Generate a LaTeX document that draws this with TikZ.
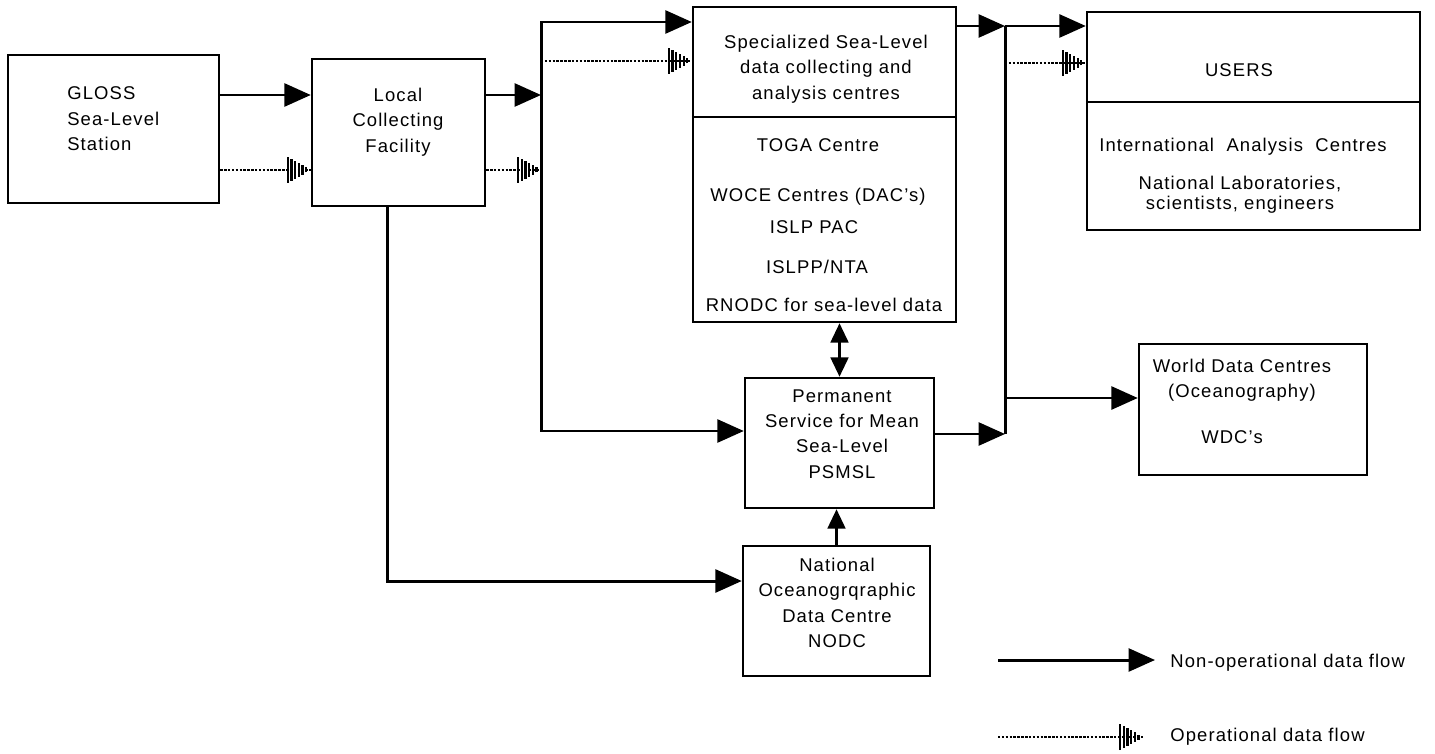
\documentclass[tikz,border=0pt]{standalone}
\usepackage{fontspec}
\setmainfont{Liberation Sans}[LetterSpace=6]
\usetikzlibrary{arrows.meta,decorations.markings}

\begin{document}
\begin{tikzpicture}[x=0.02cm, y=-0.02cm,
  every node/.style={font=\fontsize{10.5}{14.5}\selectfont},
  >={Triangle[length=15pt,width=13pt]},
  box/.style={draw, line width=1.4pt, inner sep=0pt},
  txt/.style={align=center, inner sep=0pt},
  flow/.style={line width=1.7pt, ->},
  short/.style={>={Triangle[length=11pt,width=10pt]}},
  oper/.style={line width=1.6pt, dash pattern=on 1.4pt off 0.8pt,
    postaction={decorate},
    decoration={markings, mark=at position 1 with {
      \foreach \i in {0,...,5}
        \draw[solid, line width=1.25pt] ({-23+3.7*\i},{13-2.1*\i}) -- ({-23+3.7*\i},{-13+2.1*\i});}}}]
\useasboundingbox (0,0) rectangle (1435,753);

% boxes
\node[box, minimum width=4.22cm, minimum height=2.96cm] (gloss) at (113.5,129) {};
\node[box, minimum width=3.46cm, minimum height=2.94cm] (local) at (398.5,132.5) {};
\node[box, minimum width=5.26cm, minimum height=6.3cm] (spec) at (824.5,164.5) {};
\node[box, minimum width=6.66cm, minimum height=4.36cm] (users) at (1253.5,121) {};
\node[box, minimum width=3.78cm, minimum height=2.6cm] (psmsl) at (839.5,443) {};
\node[box, minimum width=3.74cm, minimum height=2.6cm] (nodc) at (836.5,611) {};
\node[box, minimum width=4.56cm, minimum height=2.62cm] (wdc) at (1253,409.5) {};

% dividers
\coordinate (specdiv) at (0,117);
\coordinate (usersdiv) at (0,102);
\draw[line width=1.4pt] (spec.west |- specdiv) -- (spec.east |- specdiv);
\draw[line width=1.4pt] (users.west |- usersdiv) -- (users.east |- usersdiv);

% texts
\node[txt, align=left, anchor=west] (glosstxt) at (67,119) {GLOSS\\Sea-Level\\Station};
\node[txt] (localtxt) at (398,122) {Local\\Collecting\\Facility};
\node[txt] (spectxt) at (826,69) {Specialized Sea-Level\\data collecting and\\analysis centres};
\node[txt] (toga) at (818,145) {TOGA Centre};
\node[txt] (woce) at (818,197) {WOCE Centres (DAC's)};
\node[txt] (islp) at (814,227) {ISLP PAC};
\node[txt] (islpp) at (817,267) {ISLPP/NTA};
\node[txt] (rnodc) at (824,305) {RNODC for sea-level data};
\node[txt] (userstxt) at (1239,70) {USERS};
\node[txt] (intl) at (1243,147) {International\ \ Analysis\ \ Centres};
\node[txt, font=\fontsize{10.5}{11.5}\selectfont] (natlab) at (1240,195) {National Laboratories,\\scientists, engineers};
\node[txt] (psmsltxt) at (842,434) {Permanent\\Service for Mean\\Sea-Level\\PSMSL};
\node[txt] (nodctxt) at (837,603) {National\\Oceanogrqraphic\\Data Centre\\NODC};
\node[txt] (wdctxt) at (1242,380) {World Data Centres\\(Oceanography)};
\node[txt] (wdcid) at (1232,437) {WDC's};

% rows and buses
\coordinate (rowA) at (0,95);
\coordinate (rowB) at (0,170);
\coordinate (rowC) at (0,61);
\coordinate (rowD) at (0,398);
\coordinate (rowE) at (0,63);
\coordinate (busLa) at (541,22);
\coordinate (busLb) at (541,431);
\coordinate (busRa) at (1005,26);
\coordinate (busRb) at (1005,434);
\coordinate (drop) at (387,581);

\draw[flow] (gloss.east |- rowA) -- (local.west |- rowA);
\draw[oper] (gloss.east |- rowB) -- (local.west |- rowB);
\draw[flow] (local.east |- rowA) -- (busLa |- rowA);
\draw[oper] (local.east |- rowB) -- (busLa |- rowB);
\draw[flow, <->] (spec.west |- busLa) -- (busLa) -- (busLb) -- (psmsl.west |- busLb);
\draw[oper] (busLa |- rowC) -- (spec.west |- rowC);

\draw[flow] (spec.east |- busRa) -- (busRa);
\draw[flow] (busRa) -- (users.west |- busRa);
\draw[line width=1.7pt] (busRa) -- (busRb);
\draw[oper] (busRa |- rowE) -- (users.west |- rowE);
\draw[flow] (busRa |- rowD) -- (wdc.west |- rowD);
\draw[flow] (psmsl.east |- busRb) -- (busRb);

\draw[flow] (local.south -| drop) |- (nodc.west |- drop);
\draw[flow, short] (nodc.north) -- (nodc.north |- psmsl.south);
\draw[flow, short, <->] (psmsl.north) -- (psmsl.north |- spec.south);

% legend
\coordinate (legA1) at (998,660);
\coordinate (legA2) at (1155,660);
\coordinate (legB1) at (998,737);
\coordinate (legB2) at (1143,737);
\draw[flow] (legA1) -- (legA2);
\draw[oper] (legB1) -- (legB2);
\node[txt, anchor=west] (nonop) at (1170,663) {Non-operational data flow};
\node[txt, anchor=west] (opflow) at (1170,737) {Operational data flow};
\end{tikzpicture}
\end{document}
